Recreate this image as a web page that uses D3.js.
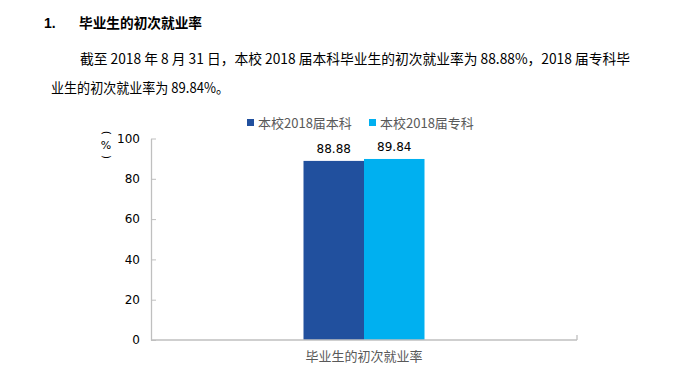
<!DOCTYPE html>
<html><head><meta charset="utf-8">
<script src="https://cdn.jsdelivr.net/npm/d3@7/dist/d3.min.js"></script>
<style>body{margin:0;background:#fff;}svg{display:block;}</style>
</head><body>
<script>
const categories = ["毕业生的初次就业率"];
const seriesNames = ["本校2018届本科", "本校2018届专科"];
const seriesValues = [88.88, 89.84];
const yTicks = [0, 20, 40, 60, 80, 100];
const colors = ["#21509E", "#00B0F0"];

const W = 690, H = 385;
const svg = d3.select("body").append("svg").attr("width", W).attr("height", H);
const cjk = "'Noto Sans CJK SC', sans-serif";

// heading and paragraph
svg.append("text").attr("x", 44).attr("y", 28).attr("font-family", "'Liberation Sans', Arial, sans-serif")
  .attr("font-weight", "bold").attr("font-size", 14).text("1.");
svg.append("text").attr("x", 79).attr("y", 28).attr("font-family", cjk)
  .attr("font-weight", "bold").attr("font-size", 14).attr("textLength", 123).attr("lengthAdjust", "spacingAndGlyphs")
  .text("毕业生的初次就业率");
svg.append("text").attr("x", 80).attr("y", 64).attr("font-family", cjk).attr("font-size", 14)
  .attr("textLength", 550).attr("lengthAdjust", "spacingAndGlyphs")
  .text("截至 2018 年 8 月 31 日，本校 2018 届本科毕业生的初次就业率为 88.88%，2018 届专科毕");
svg.append("text").attr("x", 51).attr("y", 93).attr("font-family", cjk).attr("font-size", 14)
  .attr("textLength", 178).attr("lengthAdjust", "spacingAndGlyphs")
  .text("业生的初次就业率为 89.84%。");

// chart
const x0 = d3.scaleBand().domain(categories).range([151, 577]);
const x1 = d3.scaleBand().domain(seriesNames).range([0, 121]);
const y = d3.scaleLinear().domain([0, 100]).range([340, 138.5]);
const gray = "#BFBFBF";

const g = svg.append("g");
const cat = categories[0];
const off = x0(cat) + (x0.bandwidth() - x1.range()[1]) / 2;

g.selectAll("rect.bar").data(seriesValues).join("rect")
  .attr("x", (d, i) => off + x1(seriesNames[i]))
  .attr("y", d => y(d))
  .attr("width", x1.bandwidth())
  .attr("height", d => y(0) - y(d))
  .attr("fill", (d, i) => colors[i]);

g.selectAll("text.val").data(seriesValues).join("text")
  .attr("x", (d, i) => off + x1(seriesNames[i]) + x1.bandwidth() / 2)
  .attr("y", d => y(d) - 8)
  .attr("text-anchor", "middle").attr("font-family", "'DejaVu Sans', sans-serif").attr("font-size", 12)
  .attr("fill", "#000").text(d => d.toFixed(2));

// y axis
const yAxis = d3.axisLeft(y).tickValues(yTicks).tickSize(-5).tickSizeOuter(0).tickPadding(11);
const ya = svg.append("g").attr("transform", "translate(151,0)").call(yAxis);
ya.select(".domain").attr("stroke", gray).attr("stroke-width", 1.3);
ya.selectAll(".tick line").attr("stroke", gray);
ya.selectAll(".tick text").attr("font-family", "'DejaVu Sans', sans-serif").attr("font-size", 12).attr("fill", "#000");

// x axis
const xa = svg.append("g").attr("transform", "translate(0,340)");
xa.append("line").attr("x1", 151).attr("x2", 577).attr("stroke", gray).attr("stroke-width", 1.3);
xa.append("line").attr("x1", 577).attr("x2", 577).attr("y1", 0).attr("y2", -5).attr("stroke", gray).attr("stroke-width", 1.3);
xa.append("text").attr("x", x0(cat) + x0.bandwidth() / 2).attr("y", 21).attr("text-anchor", "middle")
  .attr("font-family", cjk).attr("font-size", 13).attr("fill", "#595959").text(cat);

// y title (vertical "（%）")
const yt = svg.append("g").attr("font-family", "'DejaVu Sans', sans-serif").attr("font-size", 11).attr("fill", "#000");
yt.append("text").attr("transform", "translate(106,133) rotate(90)").attr("text-anchor", "middle").attr("dominant-baseline", "central").text("(");
yt.append("text").attr("x", 106).attr("y", 149).attr("text-anchor", "middle").text("%");
yt.append("text").attr("transform", "translate(106,157) rotate(90)").attr("text-anchor", "middle").attr("dominant-baseline", "central").text(")");

// legend
const legX = [247, 369];
const leg = svg.append("g");
seriesNames.forEach((n, i) => {
  leg.append("rect").attr("x", legX[i]).attr("y", 119).attr("width", 7).attr("height", 7).attr("fill", colors[i]);
  leg.append("text").attr("x", legX[i] + 11).attr("y", 127.5).attr("font-family", cjk).attr("font-size", 13)
    .attr("fill", "#595959").text(n);
});
</script>
</body></html>
